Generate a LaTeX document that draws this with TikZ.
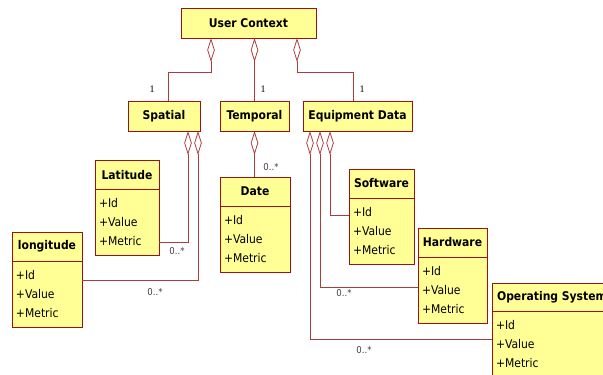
\documentclass[tikz,border=0pt]{standalone}
\usepackage{fontspec}
\setmainfont{DejaVu Sans Condensed}
\newfontfamily\numfont{Liberation Serif}
\usetikzlibrary{arrows.meta,positioning}
\definecolor{umlred}{RGB}{153,20,20}
\definecolor{umlline}{RGB}{170,60,60}
\definecolor{umlyellow}{RGB}{255,255,150}
\tikzset{
  head/.style={draw=umlred, fill=umlyellow, line width=0.9pt, minimum width=#1, minimum height=29pt,
    inner sep=0pt, outer sep=0pt, font=\fontsize{12}{13}\selectfont\bfseries},
  body/.style={draw=umlred, fill=umlyellow, line width=0.9pt, text width=#1, minimum height=66pt,
    inner xsep=4pt, inner ysep=0pt, outer sep=0pt, align=left, font=\fontsize{12}{19}\selectfont},
  agg/.style={draw=umlline, line width=0.8pt, {Diamond[open,length=24pt,width=7.5pt]}-},
  mult/.style={font=\fontsize{9.5}{10}\selectfont, text=black!75, inner sep=0pt},
  one/.style={font=\numfont\fontsize{10}{10}\selectfont, inner sep=0pt}
}
\begin{document}
\begin{tikzpicture}[x=1pt,y=-1pt]
\useasboundingbox (0,0) rectangle (603,375);
\clip (0,0) rectangle (603,375);

\node[head=135pt, minimum height=30pt] (uc) at (248.5,23) {User Context};
\node[head=72pt, minimum height=30pt] (spatial) at (164,116) {Spatial};
\node[head=69pt, minimum height=30pt] (temporal) at (254.5,116) {Temporal};
\node[head=109pt, minimum height=30pt] (equip) at (357.5,116) {Equipment Data};

\node[head=64pt] (lat) at (127,175) {Latitude};
\node[body=56pt, below=0pt of lat] (latb) {+Id\\+Value\\+Metric};
\node[head=70pt] (lon) at (47,246.5) {longitude};
\node[body=62pt, below=0pt of lon] (lonb) {+Id\\+Value\\+Metric};
\node[head=70pt] (date) at (255,191.5) {Date};
\node[body=62pt, below=0pt of date] (dateb) {+Id\\+Value\\+Metric};
\node[head=65pt] (soft) at (381.5,183.5) {Software};
\node[body=57pt, below=0pt of soft] (softb) {+Id\\+Value\\+Metric};
\node[head=69pt] (hard) at (452.5,242.5) {Hardware};
\node[body=61pt, below=0pt of hard] (hardb) {+Id\\+Value\\+Metric};
\node[head=120pt, minimum height=28pt] (os) at (552,297) {Operating System};
\node[body=112pt, below=0pt of os] (osb) {+Id\\+Value\\+Metric};

\path[agg] ([xshift=30pt]uc.south west) -- ++(0,34) -| ([xshift=40pt]spatial.north west);
\path[agg] (uc.south -| temporal.north) -- (temporal.north);
\path[agg] ([xshift=116pt]uc.south west) -- ++(0,34) -| ([xshift=50pt]equip.north west);

\path[agg] ([xshift=60pt]spatial.south west) |- ([yshift=-20pt]latb.east);
\path[agg] ([xshift=70pt]spatial.south west) |- ([yshift=14pt]lonb.east);
\path[agg] (temporal.south) -- (temporal.south |- date.north);
\path[agg] ([xshift=27pt]equip.south west) |- ([yshift=16pt]softb.west);
\path[agg] ([xshift=17pt]equip.south west) |- ([yshift=3pt]hardb.west);
\path[agg] ([xshift=7pt]equip.south west) |- ([yshift=5pt]osb.west);

\node[one] (m1) at (152,89) {1};
\node[one] (m2) at (263,89) {1};
\node[one] (m3) at (362,89) {1};
\node[mult] (mlat) at (177,251) {0..*};
\node[mult] (mlon) at (155,292) {0..*};
\node[mult] (mdate) at (271,167) {0..*};
\node[mult] (mhard) at (344,293) {0..*};
\node[mult] (mos) at (364,350) {0..*};
\end{tikzpicture}
\end{document}
